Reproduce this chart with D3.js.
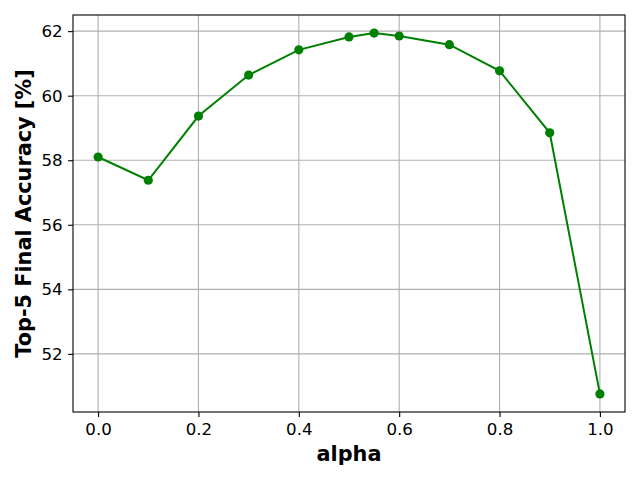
<!DOCTYPE html>
<html><head><meta charset="utf-8">
<script src="https://cdn.jsdelivr.net/npm/d3@7"></script>
<style>body{margin:0;background:#fff}svg{display:block}</style>
</head><body>
<svg id="c" width="640" height="480"></svg>
<script>
const alphas = [0.0, 0.1, 0.2, 0.3, 0.4, 0.5, 0.55, 0.6, 0.7, 0.8, 0.9, 1.0];
const accuracy = [58.10, 57.38, 59.37, 60.64, 61.42, 61.82, 61.94, 61.85, 61.58, 60.77, 58.85, 50.76];
const xTicks = [0.0, 0.2, 0.4, 0.6, 0.8, 1.0];
const yTicks = [52, 54, 56, 58, 60, 62];
const xLabel = "alpha";
const yLabel = "Top-5 Final Accuracy [%]";

const svg = d3.select("#c");
const L = 73, R = 625, T = 15, B = 412;
const x = d3.scaleLinear().domain([-0.05, 1.05]).range([L, R]);
const y = d3.scaleLinear().domain([50.2, 62.5]).range([B, T]);
const font = "DejaVu Sans, sans-serif";

// grid
const g = svg.append("g");
g.selectAll(".gx").data(xTicks).enter().append("line")
  .attr("x1", d => x(d)).attr("x2", d => x(d)).attr("y1", T).attr("y2", B)
  .attr("stroke", "#b0b0b0").attr("stroke-width", 1.1);
g.selectAll(".gy").data(yTicks).enter().append("line")
  .attr("y1", d => y(d)).attr("y2", d => y(d)).attr("x1", L).attr("x2", R)
  .attr("stroke", "#b0b0b0").attr("stroke-width", 1.1);

// axes
const xa = svg.append("g").attr("transform", `translate(0,${B})`)
  .call(d3.axisBottom(x).tickValues(xTicks).tickFormat(d3.format(".1f")).tickSize(4.9).tickPadding(6));
const ya = svg.append("g").attr("transform", `translate(${L},0)`)
  .call(d3.axisLeft(y).tickValues(yTicks).tickFormat(d3.format("d")).tickSize(4.9).tickPadding(5.5));
[xa, ya].forEach(a => {
  a.select(".domain").remove();
  a.selectAll("line").attr("stroke", "#000").attr("stroke-width", 1.1);
  a.selectAll("text").attr("font-family", font).attr("font-size", 16.67).attr("fill", "#000");
});

// line + points
const line = d3.line().x((d, i) => x(alphas[i])).y(d => y(d));
svg.append("path").datum(accuracy).attr("d", line)
  .attr("fill", "none").attr("stroke", "#008000").attr("stroke-width", 2);
svg.selectAll(".pt").data(accuracy).enter().append("circle")
  .attr("cx", (d, i) => x(alphas[i])).attr("cy", d => y(d)).attr("r", 4.6)
  .attr("fill", "#008000");

// frame
svg.append("rect").attr("x", L).attr("y", T).attr("width", R - L).attr("height", B - T)
  .attr("fill", "none").attr("stroke", "#000").attr("stroke-width", 1.1);

// labels
svg.append("text").attr("x", (L + R) / 2).attr("y", 461).attr("text-anchor", "middle")
  .attr("font-family", font).attr("font-weight", "bold").attr("font-size", 20.8).text(xLabel);
svg.append("text").attr("transform", `translate(31,${(T + B) / 2}) rotate(-90)`).attr("text-anchor", "middle")
  .attr("font-family", font).attr("font-weight", "bold").attr("font-size", 20.8).text(yLabel);
</script>
</body></html>
